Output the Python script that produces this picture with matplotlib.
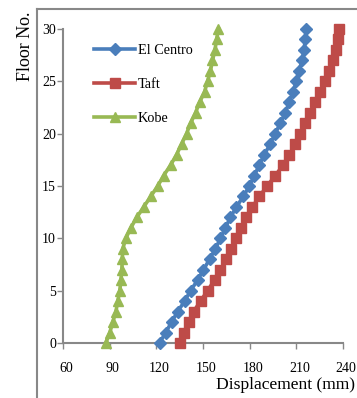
import matplotlib
matplotlib.use("Agg")
import matplotlib.pyplot as plt
import matplotlib.transforms as mtransforms
from matplotlib.lines import Line2D

FLOORS = list(range(0, 31))

EL_CENTRO = [122.1, 126.0, 129.8, 133.7, 138.2, 142.0, 146.5, 150.3, 154.2, 158.0,
             161.2, 164.4, 167.6, 171.5, 175.9, 179.8, 183.0, 186.2, 189.4, 193.2,
             196.4, 199.7, 202.9, 205.4, 208.0, 209.9, 211.8, 213.7, 215.0, 215.7,
             216.3]
TAFT = [135.0, 137.5, 140.7, 143.9, 148.4, 152.9, 157.4, 161.2, 165.1, 168.3,
        171.5, 174.7, 177.9, 181.7, 186.2, 191.3, 196.4, 201.6, 205.4, 209.3,
        212.5, 215.7, 218.9, 222.1, 225.3, 228.5, 231.0, 233.6, 235.5, 236.8,
        237.4]
KOBE = [87.5, 90.1, 92.0, 94.0, 95.2, 96.5, 97.2, 97.8, 98.1, 98.4,
        100.4, 103.6, 107.4, 111.9, 116.4, 120.9, 124.7, 129.2, 133.0, 136.2,
        139.4, 142.0, 145.2, 147.8, 151.0, 152.9, 154.8, 156.1, 157.7, 158.7,
        159.9]

X_TICKS = [60, 90, 120, 150, 180, 210, 240]
Y_TICKS = [0, 5, 10, 15, 20, 25, 30]

SERIES = [
    ("El Centro", EL_CENTRO, "#4A7EBB", "D", 6.5),
    ("Taft", TAFT, "#BE4B48", "s", 7.5),
    ("Kobe", KOBE, "#98B954", "^", 7.5),
]

GRAY = "#888888"
SERIF = "Liberation Serif"

fig = plt.figure(figsize=(3.57, 3.98), dpi=100)
ax = fig.add_axes([63 / 357, 55 / 398, 280 / 357, 314 / 398])

for name, values, color, marker, ms in SERIES:
    ax.plot(values, FLOORS, color=color, lw=2.6, marker=marker, ms=ms,
            mec=color, mfc=color, clip_on=False, label=name, zorder=3)

ax.set_xlim(60, 240)
ax.set_ylim(0, 30)
ax.set_xticks(X_TICKS)
ax.set_yticks(Y_TICKS)
ax.set_xticklabels([str(v) for v in X_TICKS], family=SERIF, fontsize=10)
ax.set_yticklabels([str(v) for v in Y_TICKS], family=SERIF, fontsize=10)
ax.tick_params(axis="both", direction="out", length=4, width=1, color=GRAY, pad=1)
ax.tick_params(axis="x", pad=10)

# x tick labels sit a little right of their ticks in the original
shift = mtransforms.ScaledTranslation(3 / 100, 0, fig.dpi_scale_trans)
for lbl in ax.get_xticklabels():
    lbl.set_transform(lbl.get_transform() + shift)

for side in ["top", "right"]:
    ax.spines[side].set_visible(False)
for side in ["left", "bottom"]:
    ax.spines[side].set_color(GRAY)
    ax.spines[side].set_linewidth(1.5)

leg = ax.legend(loc="upper left", bbox_to_anchor=(0.09, 0.97), frameon=False,
                prop={"family": SERIF, "size": 10.3}, handlelength=2.9,
                handletextpad=0.15, labelspacing=1.45, borderaxespad=0)

# chart area border (cropped on the right and bottom)
fig.add_artist(Line2D([37 / 357, 37 / 357], [0, 389 / 398], color=GRAY, lw=1.5))
fig.add_artist(Line2D([37 / 357, 1], [389 / 398, 389 / 398], color=GRAY, lw=1.5))

fig.text(26 / 357, 352 / 398, "Floor No.", rotation=90, ha="center", va="center",
         family=SERIF, fontsize=13)
fig.text(286 / 357, 13 / 398, "Displacement (mm)", ha="center", va="center",
         family=SERIF, fontsize=12.6)

fig.savefig("out.png", dpi=100)
